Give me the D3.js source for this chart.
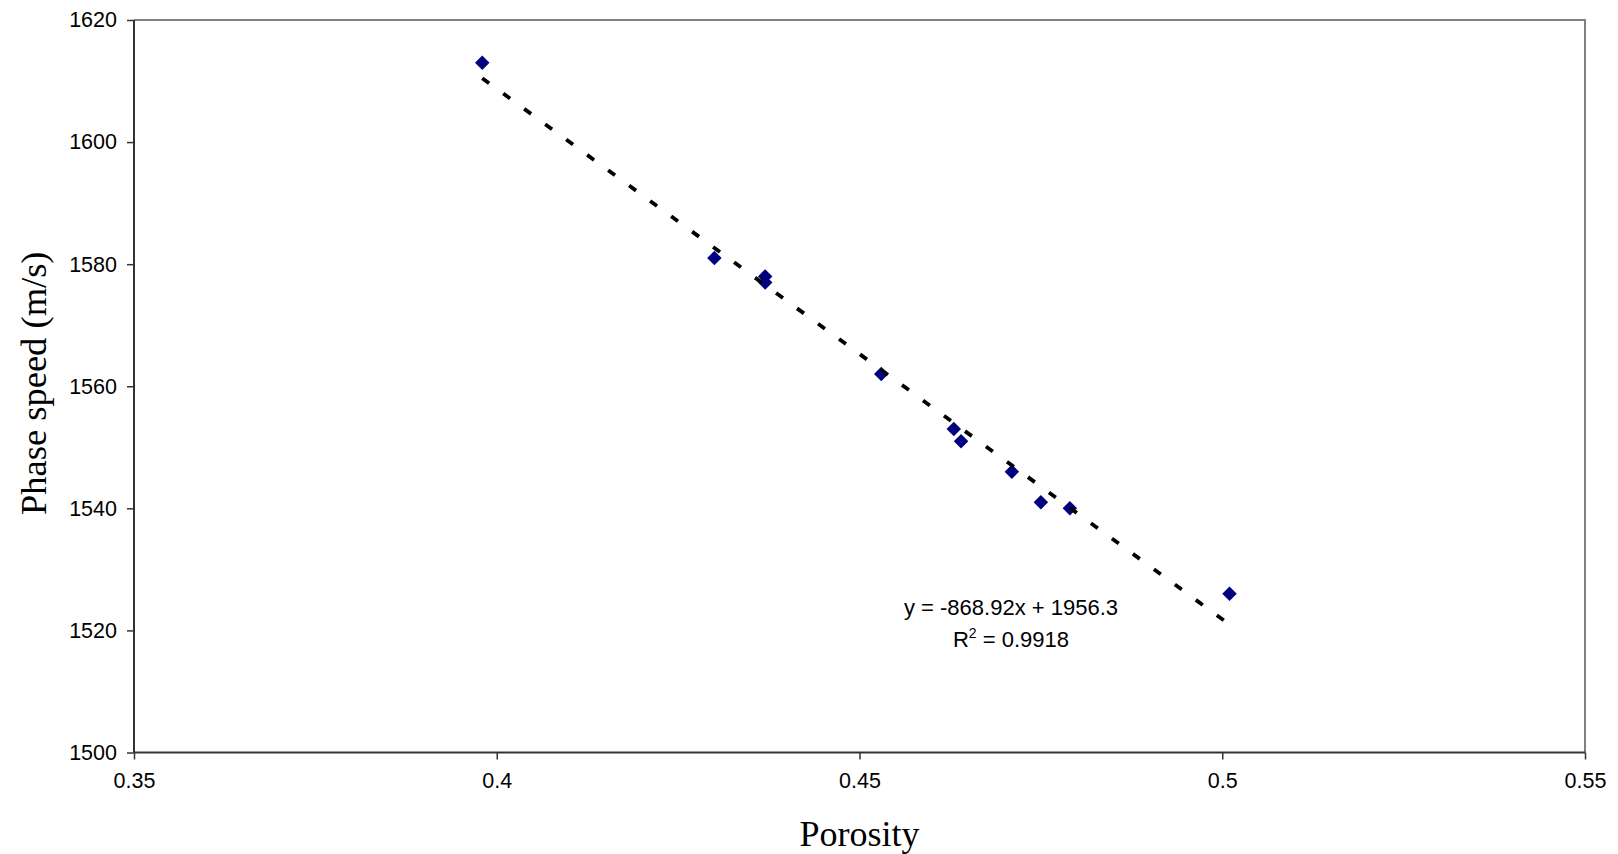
<!DOCTYPE html>
<html>
<head>
<meta charset="utf-8">
<script src="https://cdn.jsdelivr.net/npm/d3@7"></script>
<style>
  html, body { margin: 0; padding: 0; background: #fff; }
  svg { display: block; }
</style>
</head>
<body>
<svg id="chart" width="1618" height="854"></svg>
<script>
// ---- data ----
const porosity = [0.398, 0.430, 0.437, 0.437, 0.453, 0.463, 0.464, 0.471, 0.475, 0.479, 0.501];
const phaseSpeed = [1613, 1581, 1578, 1577, 1562, 1553, 1551, 1546, 1541, 1540, 1526];
const xTicks = [0.35, 0.40, 0.45, 0.50, 0.55];
const xTickLabels = ["0.35", "0.4", "0.45", "0.5", "0.55"];
const yTicks = [1500, 1520, 1540, 1560, 1580, 1600, 1620];
const trendSlope = -868.92;
const trendIntercept = 1956.3;
const equationText = "y = -868.92x + 1956.3";
const r2Value = "0.9918";
const xTitle = "Porosity";
const yTitle = "Phase speed (m/s)";

// ---- layout ----
const svg = d3.select("#chart");
const mLeft = 134, mRight = 1585, mTop = 20, mBottom = 752.5;

const x = d3.scaleLinear().domain([0.35, 0.55]).range([mLeft, mRight]);
const y = d3.scaleLinear().domain([1500, 1620]).range([mBottom, mTop]);

// plot border: top/right gray
svg.append("path")
  .attr("d", `M${mLeft},${mTop}H${mRight}V${mBottom}`)
  .attr("fill", "none").attr("stroke", "#808080").attr("stroke-width", 2);

// axes
const fontSans = "'Liberation Sans', Arial, sans-serif";
const yAxis = svg.append("g").attr("transform", `translate(${mLeft},0)`)
  .call(d3.axisLeft(y).tickValues(yTicks).tickSize(7).tickPadding(10).tickFormat(d3.format("d")));
const xAxis = svg.append("g").attr("transform", `translate(0,${mBottom})`)
  .call(d3.axisBottom(x).tickValues(xTicks).tickSize(7).tickPadding(13)
    .tickFormat((d, i) => xTickLabels[i]));

[yAxis, xAxis].forEach(g => {
  g.select(".domain").attr("stroke", "#333").attr("stroke-width", 2);
  g.selectAll(".tick line").attr("stroke", "#333").attr("stroke-width", 1.5);
  g.selectAll(".tick text").attr("font-family", fontSans).attr("font-size", 21.5).attr("fill", "#000");
});
yAxis.select(".domain").attr("d", `M0,${mTop}V${mBottom}`);
xAxis.select(".domain").attr("d", `M${mLeft},0H${mRight}`);

// points
const pts = porosity.map((p, i) => ({ p, v: phaseSpeed[i] }));
svg.append("g").selectAll("path").data(pts).join("path")
  .attr("d", d3.symbol().type(d3.symbolSquare).size(105))
  .attr("transform", d => `translate(${x(d.p)},${y(d.v)}) rotate(45)`)
  .attr("fill", "#000080");

// trendline
const x0 = d3.min(porosity), x1 = d3.max(porosity);
const trend = [x0, x1].map(p => [x(p), y(trendSlope * p + trendIntercept)]);
svg.append("path")
  .attr("d", d3.line()(trend))
  .attr("fill", "none").attr("stroke", "#000").attr("stroke-width", 3.8)
  .attr("stroke-dasharray", "8.5,17.5");

// equation labels
const eq = svg.append("g").attr("font-family", fontSans).attr("font-size", 22).attr("fill", "#000")
  .attr("text-anchor", "middle");
eq.append("text").attr("x", 1011).attr("y", 615).text(equationText);
const r2 = eq.append("text").attr("x", 1011).attr("y", 647);
r2.append("tspan").text("R");
r2.append("tspan").attr("font-size", 14).attr("dy", -9).text("2");
r2.append("tspan").attr("dy", 9).text(" = " + r2Value);

// axis titles
const fontSerif = "'Liberation Serif', 'Times New Roman', serif";
svg.append("text").attr("x", (mLeft + mRight) / 2).attr("y", 846)
  .attr("text-anchor", "middle").attr("font-family", fontSerif).attr("font-size", 36)
  .text(xTitle);
svg.append("text").attr("transform", `translate(46,${(mTop + mBottom) / 2 - 3}) rotate(-90)`)
  .attr("text-anchor", "middle").attr("font-family", fontSerif).attr("font-size", 36.5)
  .text(yTitle);
</script>
</body>
</html>
